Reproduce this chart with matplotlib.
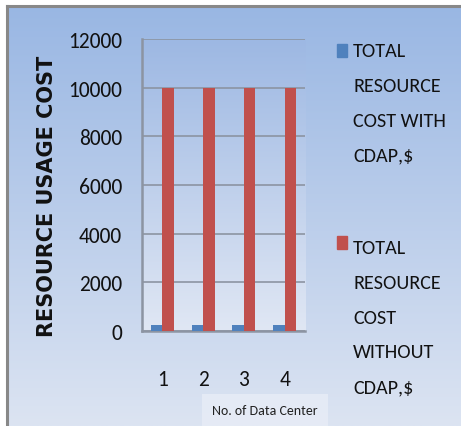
import numpy as np
import matplotlib
matplotlib.use("Agg")
import matplotlib.pyplot as plt
from matplotlib.patches import Rectangle
from matplotlib.lines import Line2D

# Data
categories = ["1", "2", "3", "4"]
cost_with_cdap = [250, 250, 250, 250]
cost_without_cdap = [10000, 10000, 10000, 10000]
series_labels = [["TOTAL", "RESOURCE", "COST WITH", "CDAP,$"],
                 ["TOTAL", "RESOURCE", "COST", "WITHOUT", "CDAP,$"]]
y_ticks = [0, 2000, 4000, 6000, 8000, 10000, 12000]

BLUE = "#4F81BD"
RED = "#C0504D"
GRID = "#8C94A2"
FONT = ["Carlito", "DejaVu Sans"]

W, H = 461, 427
fig = plt.figure(figsize=(W / 100, H / 100), dpi=100)
fig.patch.set_facecolor("white")

# Chart-area background: vertical gradient, framed on top and left
bg = fig.add_axes([0, 0, 1, 1], zorder=-10)
bg.set_axis_off()
top_c = np.array([152, 182, 227]) / 255
bot_c = np.array([220, 228, 242]) / 255
t = np.linspace(0, 1, 256)[:, None, None]
grad = top_c * (1 - t) + bot_c * t
bg.imshow(grad, extent=(0, 1, 0, 1), aspect="auto", origin="upper")
bg.set_xlim(0, 1)
bg.set_ylim(0, 1)
x0, y0 = 7 / W, 1 - 7 / H
bg.add_patch(Rectangle((0, y0), 1, 1 - y0, color="white", zorder=2))
bg.add_patch(Rectangle((0, 0), x0, 1, color="white", zorder=2))
bg.add_line(Line2D([x0, x0], [0, y0], color="#888888", lw=2.2, zorder=3))
bg.add_line(Line2D([x0, 1], [y0, y0], color="#888888", lw=2.2, zorder=3))

# Plot area
ax = fig.add_axes([142 / W, 1 - 332 / H, 163 / W, 292 / H])
ax.patch.set_visible(False)
x = np.arange(len(categories))
ax.set_xlim(-0.5, len(categories) - 0.5)
ax.set_ylim(0, 12000)

pa_top = np.array([157, 184, 227]) / 255
pa_bot = np.array([224, 231, 244]) / 255
pa = pa_top * (1 - t) + pa_bot * t
ax.imshow(pa, extent=(-0.5, len(categories) - 0.5, 0, 12000),
          aspect="auto", origin="upper", zorder=0)

bw = 0.28
ax.bar(x - bw / 2, cost_with_cdap, bw, color=BLUE, zorder=3)
ax.bar(x + bw / 2, cost_without_cdap, bw, color=RED, zorder=3)

ax.set_yticks(y_ticks)
ax.set_yticklabels([str(v) for v in y_ticks])
ax.yaxis.grid(True, color=GRID, lw=1.2, zorder=1)
ax.set_axisbelow(True)
ax.set_xticks(x)
ax.set_xticklabels(categories)
ax.tick_params(axis="y", length=0, pad=14.5, labelsize=15.5, labelcolor="#111111")
ax.tick_params(axis="x", length=0, pad=27.5, labelsize=15.5, labelcolor="#111111")
for lab in ax.get_xticklabels() + ax.get_yticklabels():
    lab.set_family(FONT)

for s in ["top", "right"]:
    ax.spines[s].set_visible(False)
for s in ["left", "bottom"]:
    ax.spines[s].set_color(GRID)
    ax.spines[s].set_linewidth(1.8)

# Axis titles
fig.text(47 / W, 1 - 196 / H, "RESOURCE USAGE COST", rotation=90,
         ha="center", va="center", fontsize=15, fontweight="bold",
         family="DejaVu Sans", color="#111111")
fig.text(265 / W, 1 - 411 / H, "No. of Data Center", ha="center", va="center",
         fontsize=10, family=FONT, color="#222222",
         bbox=dict(boxstyle="square,pad=0.7", facecolor=(0.91, 0.93, 0.97),
                   edgecolor="none", alpha=0.8))

# Legend: swatch plus one text line per row
legend_rows = [(BLUE, 45, 50), (RED, 237, 247)]
for (col, sq_top, first_line), lines in zip(legend_rows, series_labels):
    fig.patches.append(Rectangle((337 / W, 1 - (sq_top + 13) / H), 10 / W, 13 / H,
                                 transform=fig.transFigure, color=col,
                                 figure=fig))
    for i, line in enumerate(lines):
        yc = first_line + i * 34.8
        fig.text(353 / W, 1 - (yc + 7) / H, line, ha="left", va="baseline",
                 fontsize=14.5, family=FONT, color="#111111")

fig.savefig("out.png", dpi=100)
